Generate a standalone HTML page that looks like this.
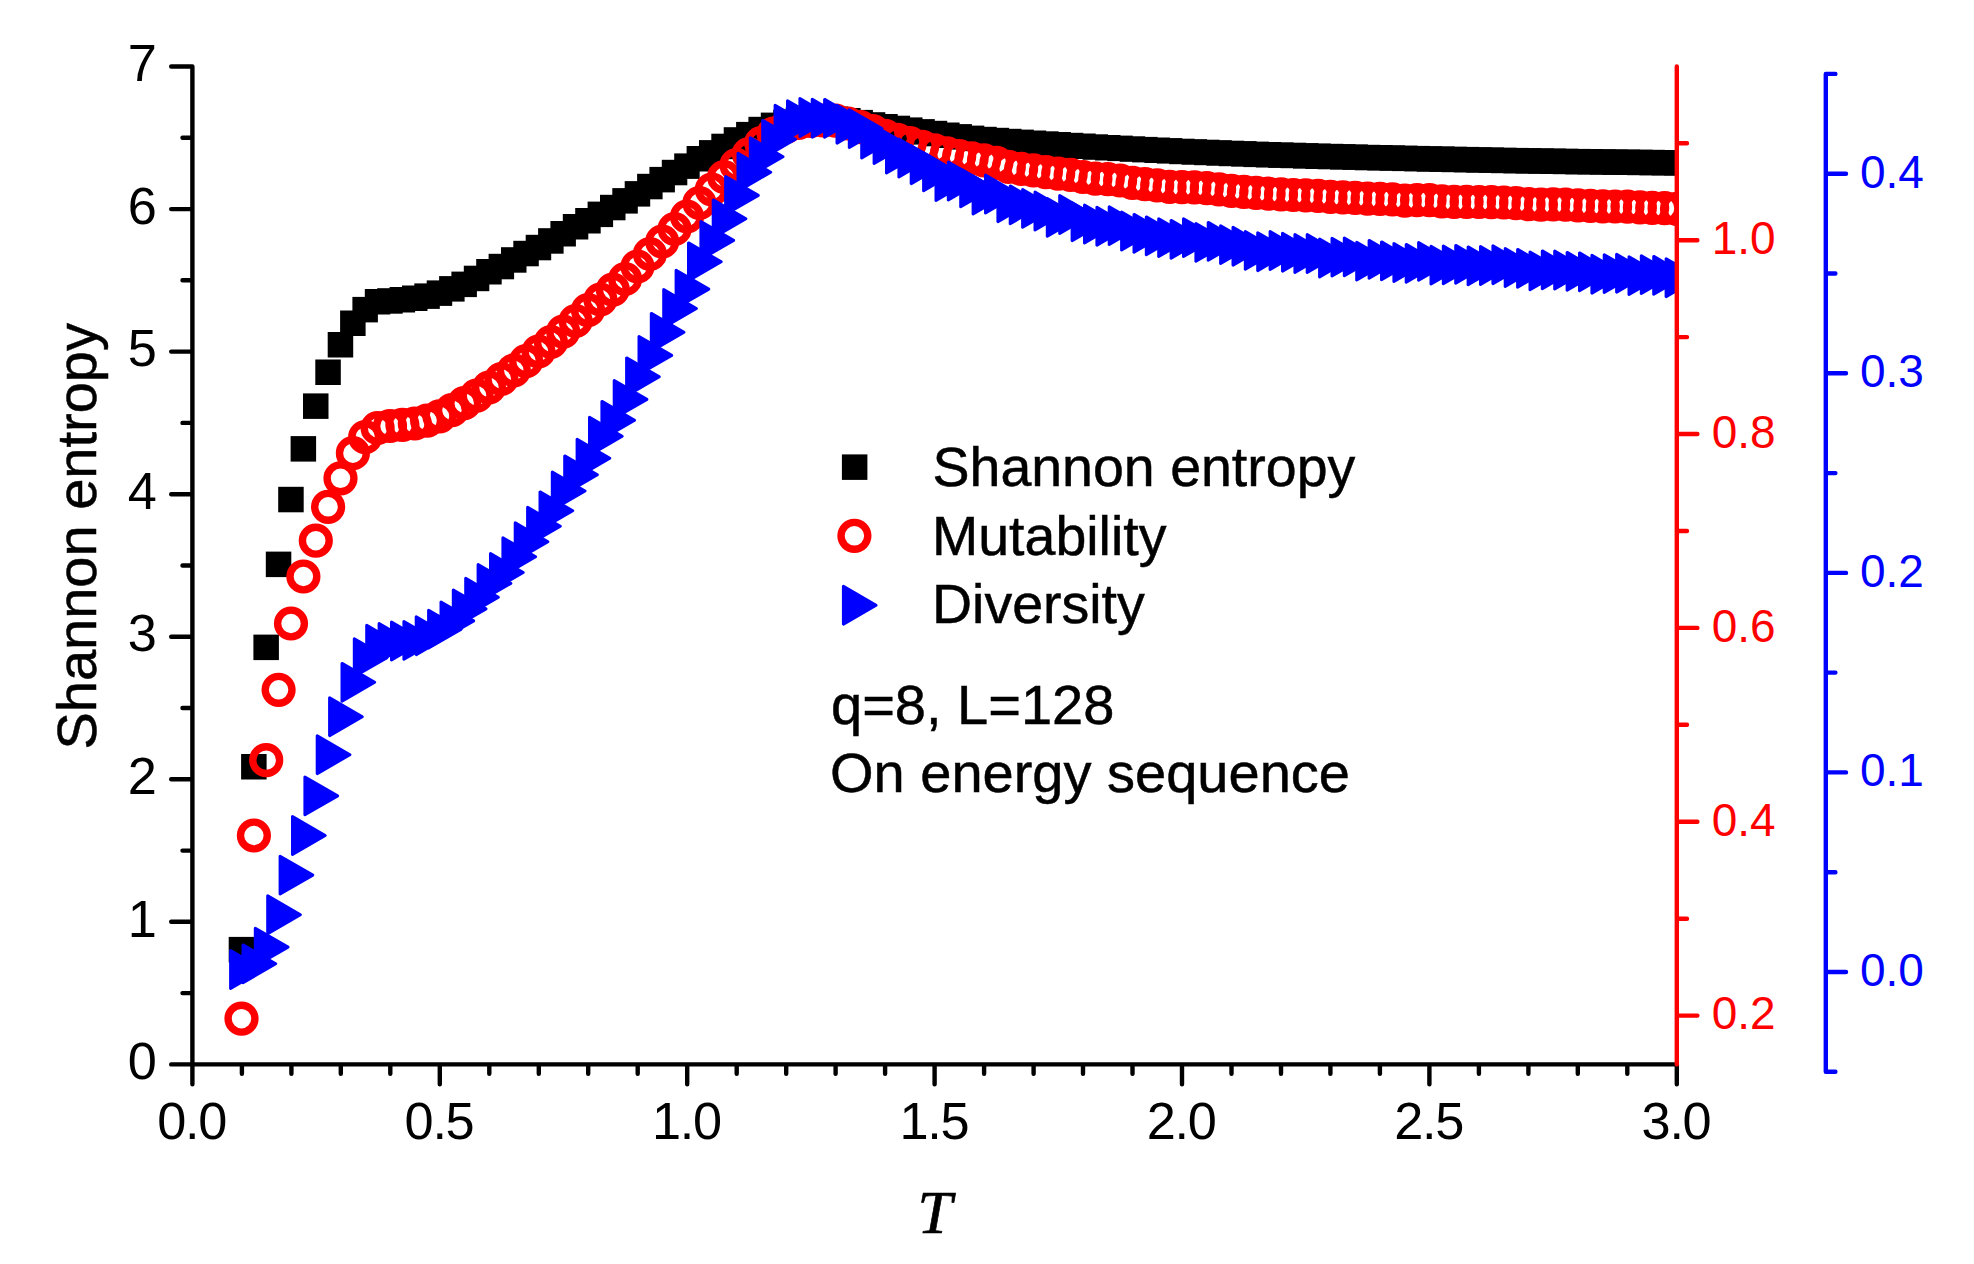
<!DOCTYPE html>
<html lang="en"><head><meta charset="utf-8"><title>Shannon entropy, Mutability, Diversity</title>
<style>html,body{margin:0;padding:0;background:#fff}body{width:1974px;height:1264px;overflow:hidden}svg{display:block}text{font-family:"Liberation Sans",Arial,sans-serif;stroke-width:0}.tl,.tg{stroke:#000;stroke-width:.5px}.k{fill:#000}.r{fill:#f00}.b{fill:#00f}.tk{font-size:52.3px;letter-spacing:-1.3px}.ts{font-size:46px}.tl{font-size:56px}.tg{font-size:55.5px}</style></head><body>
<svg width="1974" height="1264" viewBox="0 0 1974 1264">
<rect width="1974" height="1264" fill="#fff"/>
<defs><clipPath id="cp"><rect x="192.4" y="0" width="1484.4" height="1264"/></clipPath>
<rect id="sq" x="-12.8" y="-12.8" width="25.5" height="25.5" fill="#000"/>
<circle id="ci" r="13.4" fill="none" stroke="#f00" stroke-width="7.4"/>
<path id="tr" d="M-10.9 -18.9L21.8 0L-10.9 18.9Z" fill="#00f" stroke="#00f" stroke-width="3" stroke-linejoin="round"/>
</defs>
<g clip-path="url(#cp)">
<g><use href="#sq" x="241.5" y="949.7"/><use href="#sq" x="253.9" y="766.8"/><use href="#sq" x="266.2" y="647.4"/><use href="#sq" x="278.6" y="564.4"/><use href="#sq" x="291" y="499.6"/><use href="#sq" x="303.4" y="448.9"/><use href="#sq" x="315.8" y="406.2"/><use href="#sq" x="328.1" y="372.3"/><use href="#sq" x="340.5" y="344.8"/><use href="#sq" x="352.9" y="323.3"/><use href="#sq" x="365.2" y="309.7"/><use href="#sq" x="377.6" y="301.8"/><use href="#sq" x="390" y="301"/><use href="#sq" x="402.4" y="299.8"/><use href="#sq" x="414.8" y="298.3"/><use href="#sq" x="427.1" y="296.2"/><use href="#sq" x="439.5" y="293.2"/><use href="#sq" x="451.9" y="288.9"/><use href="#sq" x="464.2" y="284.4"/><use href="#sq" x="476.6" y="278.5"/><use href="#sq" x="489" y="271.8"/><use href="#sq" x="501.4" y="266.6"/><use href="#sq" x="513.8" y="260"/><use href="#sq" x="526.1" y="253.6"/><use href="#sq" x="538.5" y="247.6"/><use href="#sq" x="550.9" y="241"/><use href="#sq" x="563.2" y="233.8"/><use href="#sq" x="575.6" y="226.8"/><use href="#sq" x="588" y="220.8"/><use href="#sq" x="600.4" y="214.4"/><use href="#sq" x="612.8" y="207.6"/><use href="#sq" x="625.1" y="200.9"/><use href="#sq" x="637.5" y="193.9"/><use href="#sq" x="649.9" y="186.6"/><use href="#sq" x="662.2" y="179.7"/><use href="#sq" x="674.6" y="172.6"/><use href="#sq" x="687" y="166.2"/><use href="#sq" x="699.4" y="158.8"/><use href="#sq" x="711.8" y="152.9"/><use href="#sq" x="724.1" y="146.5"/><use href="#sq" x="736.5" y="140"/><use href="#sq" x="748.9" y="134.7"/><use href="#sq" x="761.2" y="129.6"/><use href="#sq" x="773.6" y="125.4"/><use href="#sq" x="786" y="122.5"/><use href="#sq" x="798.4" y="120.5"/><use href="#sq" x="810.8" y="119.3"/><use href="#sq" x="823.1" y="118.8"/><use href="#sq" x="835.5" y="119.3"/><use href="#sq" x="847.9" y="120.8"/><use href="#sq" x="860.2" y="122.7"/><use href="#sq" x="872.6" y="125"/><use href="#sq" x="885" y="126.8"/><use href="#sq" x="897.4" y="128.5"/><use href="#sq" x="909.8" y="130.2"/><use href="#sq" x="922.1" y="131.9"/><use href="#sq" x="934.5" y="133.6"/><use href="#sq" x="946.9" y="135.3"/><use href="#sq" x="959.2" y="136.9"/><use href="#sq" x="971.6" y="138.4"/><use href="#sq" x="984" y="139.6"/><use href="#sq" x="996.4" y="140.6"/><use href="#sq" x="1008.8" y="141.6"/><use href="#sq" x="1021.1" y="142.4"/><use href="#sq" x="1033.5" y="143.3"/><use href="#sq" x="1045.9" y="144.1"/><use href="#sq" x="1058.2" y="144.8"/><use href="#sq" x="1070.6" y="145.6"/><use href="#sq" x="1083" y="146.3"/><use href="#sq" x="1095.4" y="147.1"/><use href="#sq" x="1107.8" y="147.8"/><use href="#sq" x="1120.1" y="148.4"/><use href="#sq" x="1132.5" y="149.1"/><use href="#sq" x="1144.9" y="149.7"/><use href="#sq" x="1157.2" y="150.3"/><use href="#sq" x="1169.6" y="150.9"/><use href="#sq" x="1182" y="151.5"/><use href="#sq" x="1194.4" y="152"/><use href="#sq" x="1206.8" y="152.5"/><use href="#sq" x="1219.1" y="153"/><use href="#sq" x="1231.5" y="153.5"/><use href="#sq" x="1243.9" y="153.9"/><use href="#sq" x="1256.2" y="154.4"/><use href="#sq" x="1268.6" y="154.8"/><use href="#sq" x="1281" y="155.2"/><use href="#sq" x="1293.4" y="155.5"/><use href="#sq" x="1305.8" y="155.9"/><use href="#sq" x="1318.1" y="156.3"/><use href="#sq" x="1330.5" y="156.6"/><use href="#sq" x="1342.9" y="156.9"/><use href="#sq" x="1355.2" y="157.2"/><use href="#sq" x="1367.6" y="157.6"/><use href="#sq" x="1380" y="157.8"/><use href="#sq" x="1392.4" y="158.1"/><use href="#sq" x="1404.8" y="158.4"/><use href="#sq" x="1417.1" y="158.7"/><use href="#sq" x="1429.5" y="159"/><use href="#sq" x="1441.9" y="159.2"/><use href="#sq" x="1454.2" y="159.5"/><use href="#sq" x="1466.6" y="159.7"/><use href="#sq" x="1479" y="160"/><use href="#sq" x="1491.4" y="160.2"/><use href="#sq" x="1503.8" y="160.5"/><use href="#sq" x="1516.1" y="160.7"/><use href="#sq" x="1528.5" y="160.9"/><use href="#sq" x="1540.9" y="161.1"/><use href="#sq" x="1553.2" y="161.3"/><use href="#sq" x="1565.6" y="161.5"/><use href="#sq" x="1578" y="161.7"/><use href="#sq" x="1590.4" y="161.8"/><use href="#sq" x="1602.8" y="162"/><use href="#sq" x="1615.1" y="162.2"/><use href="#sq" x="1627.5" y="162.3"/><use href="#sq" x="1639.9" y="162.5"/><use href="#sq" x="1652.2" y="162.6"/><use href="#sq" x="1664.6" y="162.8"/><use href="#sq" x="1677" y="162.9"/></g>
<g><use href="#ci" x="241.5" y="1018.7"/><use href="#ci" x="253.9" y="835.5"/><use href="#ci" x="266.2" y="760.1"/><use href="#ci" x="278.6" y="689.8"/><use href="#ci" x="291" y="623.5"/><use href="#ci" x="303.4" y="576.5"/><use href="#ci" x="315.8" y="540.7"/><use href="#ci" x="328.1" y="506.8"/><use href="#ci" x="340.5" y="478.3"/><use href="#ci" x="352.9" y="453.2"/><use href="#ci" x="365.2" y="437.2"/><use href="#ci" x="377.6" y="428"/><use href="#ci" x="390" y="426"/><use href="#ci" x="402.4" y="424.8"/><use href="#ci" x="414.8" y="423.5"/><use href="#ci" x="427.1" y="420.6"/><use href="#ci" x="439.5" y="416.3"/><use href="#ci" x="451.9" y="410.2"/><use href="#ci" x="464.2" y="403.2"/><use href="#ci" x="476.6" y="395.7"/><use href="#ci" x="489" y="387.5"/><use href="#ci" x="501.4" y="379"/><use href="#ci" x="513.8" y="370.4"/><use href="#ci" x="526.1" y="361.2"/><use href="#ci" x="538.5" y="351.5"/><use href="#ci" x="550.9" y="342"/><use href="#ci" x="563.2" y="331.6"/><use href="#ci" x="575.6" y="321"/><use href="#ci" x="588" y="310.2"/><use href="#ci" x="600.4" y="299.5"/><use href="#ci" x="612.8" y="289.6"/><use href="#ci" x="625.1" y="279"/><use href="#ci" x="637.5" y="266.5"/><use href="#ci" x="649.9" y="254"/><use href="#ci" x="662.2" y="241.5"/><use href="#ci" x="674.6" y="229"/><use href="#ci" x="687" y="216.5"/><use href="#ci" x="699.4" y="203"/><use href="#ci" x="711.8" y="189.5"/><use href="#ci" x="724.1" y="177"/><use href="#ci" x="736.5" y="165"/><use href="#ci" x="748.9" y="154"/><use href="#ci" x="761.2" y="143"/><use href="#ci" x="773.6" y="133.5"/><use href="#ci" x="786" y="127"/><use href="#ci" x="798.4" y="123"/><use href="#ci" x="810.8" y="121"/><use href="#ci" x="823.1" y="120.5"/><use href="#ci" x="835.5" y="120.7"/><use href="#ci" x="847.9" y="123.5"/><use href="#ci" x="860.2" y="127.2"/><use href="#ci" x="872.6" y="131.2"/><use href="#ci" x="885" y="135.8"/><use href="#ci" x="897.4" y="139.8"/><use href="#ci" x="909.8" y="143"/><use href="#ci" x="922.1" y="146.8"/><use href="#ci" x="934.5" y="150.3"/><use href="#ci" x="946.9" y="153.4"/><use href="#ci" x="959.2" y="156.2"/><use href="#ci" x="971.6" y="158.4"/><use href="#ci" x="984" y="160.4"/><use href="#ci" x="996.4" y="162.8"/><use href="#ci" x="1008.8" y="166.9"/><use href="#ci" x="1021.1" y="168.8"/><use href="#ci" x="1033.5" y="170.4"/><use href="#ci" x="1045.9" y="172.1"/><use href="#ci" x="1058.2" y="173.6"/><use href="#ci" x="1070.6" y="174.8"/><use href="#ci" x="1083" y="177"/><use href="#ci" x="1095.4" y="178.7"/><use href="#ci" x="1107.8" y="179.1"/><use href="#ci" x="1120.1" y="180.5"/><use href="#ci" x="1132.5" y="182.8"/><use href="#ci" x="1144.9" y="184.1"/><use href="#ci" x="1157.2" y="185.4"/><use href="#ci" x="1169.6" y="186.8"/><use href="#ci" x="1182" y="187.2"/><use href="#ci" x="1194.4" y="187.4"/><use href="#ci" x="1206.8" y="188.2"/><use href="#ci" x="1219.1" y="189.4"/><use href="#ci" x="1231.5" y="190.8"/><use href="#ci" x="1243.9" y="191.9"/><use href="#ci" x="1256.2" y="192.9"/><use href="#ci" x="1268.6" y="193.7"/><use href="#ci" x="1281" y="194.3"/><use href="#ci" x="1293.4" y="195"/><use href="#ci" x="1305.8" y="195.4"/><use href="#ci" x="1318.1" y="195.8"/><use href="#ci" x="1330.5" y="196.8"/><use href="#ci" x="1342.9" y="197.3"/><use href="#ci" x="1355.2" y="197.8"/><use href="#ci" x="1367.6" y="198.6"/><use href="#ci" x="1380" y="198.8"/><use href="#ci" x="1392.4" y="199.4"/><use href="#ci" x="1404.8" y="200.6"/><use href="#ci" x="1417.1" y="200.2"/><use href="#ci" x="1429.5" y="200.2"/><use href="#ci" x="1441.9" y="201.4"/><use href="#ci" x="1454.2" y="201.9"/><use href="#ci" x="1466.6" y="201.8"/><use href="#ci" x="1479" y="202"/><use href="#ci" x="1491.4" y="202.2"/><use href="#ci" x="1503.8" y="202.5"/><use href="#ci" x="1516.1" y="203.1"/><use href="#ci" x="1528.5" y="204.1"/><use href="#ci" x="1540.9" y="204.6"/><use href="#ci" x="1553.2" y="204.3"/><use href="#ci" x="1565.6" y="204.7"/><use href="#ci" x="1578" y="205.4"/><use href="#ci" x="1590.4" y="205.8"/><use href="#ci" x="1602.8" y="206.4"/><use href="#ci" x="1615.1" y="206.5"/><use href="#ci" x="1627.5" y="206.6"/><use href="#ci" x="1639.9" y="207.4"/><use href="#ci" x="1652.2" y="207.8"/><use href="#ci" x="1664.6" y="208.2"/><use href="#ci" x="1677" y="208.8"/></g>
<g><use href="#tr" x="241.5" y="969.5"/><use href="#tr" x="253.9" y="963.8"/><use href="#tr" x="266.2" y="947.1"/><use href="#tr" x="278.6" y="914.7"/><use href="#tr" x="291" y="875.1"/><use href="#tr" x="303.4" y="835.5"/><use href="#tr" x="315.8" y="795.9"/><use href="#tr" x="328.1" y="754.7"/><use href="#tr" x="340.5" y="716.7"/><use href="#tr" x="352.9" y="682.3"/><use href="#tr" x="365.2" y="657.6"/><use href="#tr" x="377.6" y="644.2"/><use href="#tr" x="390" y="642.5"/><use href="#tr" x="402.4" y="641"/><use href="#tr" x="414.8" y="640.4"/><use href="#tr" x="427.1" y="635.7"/><use href="#tr" x="439.5" y="629.1"/><use href="#tr" x="451.9" y="620.9"/><use href="#tr" x="464.2" y="608.9"/><use href="#tr" x="476.6" y="597.2"/><use href="#tr" x="489" y="583.4"/><use href="#tr" x="501.4" y="572.5"/><use href="#tr" x="513.8" y="556.7"/><use href="#tr" x="526.1" y="541.7"/><use href="#tr" x="538.5" y="526.2"/><use href="#tr" x="550.9" y="510.8"/><use href="#tr" x="563.2" y="491"/><use href="#tr" x="575.6" y="474.8"/><use href="#tr" x="588" y="458.2"/><use href="#tr" x="600.4" y="436.2"/><use href="#tr" x="612.8" y="420.3"/><use href="#tr" x="625.1" y="399.4"/><use href="#tr" x="637.5" y="376.8"/><use href="#tr" x="649.9" y="355.4"/><use href="#tr" x="662.2" y="332.3"/><use href="#tr" x="674.6" y="308.5"/><use href="#tr" x="687" y="289.1"/><use href="#tr" x="699.4" y="261.8"/><use href="#tr" x="711.8" y="240.4"/><use href="#tr" x="724.1" y="218.8"/><use href="#tr" x="736.5" y="195.4"/><use href="#tr" x="748.9" y="172.2"/><use href="#tr" x="761.2" y="156.7"/><use href="#tr" x="773.6" y="139.3"/><use href="#tr" x="786" y="124.2"/><use href="#tr" x="798.4" y="119.6"/><use href="#tr" x="810.8" y="117.5"/><use href="#tr" x="823.1" y="118.2"/><use href="#tr" x="835.5" y="118.3"/><use href="#tr" x="847.9" y="124.2"/><use href="#tr" x="860.2" y="128.6"/><use href="#tr" x="872.6" y="139"/><use href="#tr" x="885" y="144.6"/><use href="#tr" x="897.4" y="154.1"/><use href="#tr" x="909.8" y="158"/><use href="#tr" x="922.1" y="164.7"/><use href="#tr" x="934.5" y="171.8"/><use href="#tr" x="946.9" y="181.5"/><use href="#tr" x="959.2" y="181"/><use href="#tr" x="971.6" y="187.9"/><use href="#tr" x="984" y="195"/><use href="#tr" x="996.4" y="194"/><use href="#tr" x="1008.8" y="202.7"/><use href="#tr" x="1021.1" y="204.8"/><use href="#tr" x="1033.5" y="208.4"/><use href="#tr" x="1045.9" y="211"/><use href="#tr" x="1058.2" y="217.4"/><use href="#tr" x="1070.6" y="214.5"/><use href="#tr" x="1083" y="221.7"/><use href="#tr" x="1095.4" y="224"/><use href="#tr" x="1107.8" y="226.2"/><use href="#tr" x="1120.1" y="225.6"/><use href="#tr" x="1132.5" y="231"/><use href="#tr" x="1144.9" y="233.3"/><use href="#tr" x="1157.2" y="235.8"/><use href="#tr" x="1169.6" y="237.6"/><use href="#tr" x="1182" y="239.3"/><use href="#tr" x="1194.4" y="237.6"/><use href="#tr" x="1206.8" y="242.4"/><use href="#tr" x="1219.1" y="241.3"/><use href="#tr" x="1231.5" y="244.6"/><use href="#tr" x="1243.9" y="246.2"/><use href="#tr" x="1256.2" y="250.4"/><use href="#tr" x="1268.6" y="251.7"/><use href="#tr" x="1281" y="250.5"/><use href="#tr" x="1293.4" y="252.2"/><use href="#tr" x="1305.8" y="253.5"/><use href="#tr" x="1318.1" y="253.5"/><use href="#tr" x="1330.5" y="258"/><use href="#tr" x="1342.9" y="257.1"/><use href="#tr" x="1355.2" y="256.9"/><use href="#tr" x="1367.6" y="261.1"/><use href="#tr" x="1380" y="259.3"/><use href="#tr" x="1392.4" y="260.8"/><use href="#tr" x="1404.8" y="262.5"/><use href="#tr" x="1417.1" y="263.3"/><use href="#tr" x="1429.5" y="261.4"/><use href="#tr" x="1441.9" y="265.1"/><use href="#tr" x="1454.2" y="264.9"/><use href="#tr" x="1466.6" y="264.3"/><use href="#tr" x="1479" y="265.8"/><use href="#tr" x="1491.4" y="265.5"/><use href="#tr" x="1503.8" y="264.7"/><use href="#tr" x="1516.1" y="267.5"/><use href="#tr" x="1528.5" y="268.3"/><use href="#tr" x="1540.9" y="270.9"/><use href="#tr" x="1553.2" y="269.8"/><use href="#tr" x="1565.6" y="270"/><use href="#tr" x="1578" y="271.3"/><use href="#tr" x="1590.4" y="271.8"/><use href="#tr" x="1602.8" y="274.2"/><use href="#tr" x="1615.1" y="273.6"/><use href="#tr" x="1627.5" y="273.2"/><use href="#tr" x="1639.9" y="275.6"/><use href="#tr" x="1652.2" y="274.6"/><use href="#tr" x="1664.6" y="275.3"/><use href="#tr" x="1677" y="277.7"/></g>
</g>
<path d="M192.4 66.5V1064.4H1676.8M192.4 1064.4H171.2M192.4 993.1H182.5M192.4 921.8H171.2M192.4 850.6H182.5M192.4 779.3H171.2M192.4 708H182.5M192.4 636.7H171.2M192.4 565.5H182.5M192.4 494.2H171.2M192.4 422.9H182.5M192.4 351.6H171.2M192.4 280.3H182.5M192.4 209.1H171.2M192.4 137.8H182.5M192.4 66.5H171.2M192.4 1064.4V1084.3M241.9 1064.4V1073.8M291.4 1064.4V1073.8M340.8 1064.4V1073.8M390.3 1064.4V1073.8M439.8 1064.4V1084.3M489.3 1064.4V1073.8M538.8 1064.4V1073.8M588.2 1064.4V1073.8M637.7 1064.4V1073.8M687.2 1064.4V1084.3M736.7 1064.4V1073.8M786.2 1064.4V1073.8M835.6 1064.4V1073.8M885.1 1064.4V1073.8M934.6 1064.4V1084.3M984.1 1064.4V1073.8M1033.6 1064.4V1073.8M1083 1064.4V1073.8M1132.5 1064.4V1073.8M1182 1064.4V1084.3M1231.5 1064.4V1073.8M1281 1064.4V1073.8M1330.4 1064.4V1073.8M1379.9 1064.4V1073.8M1429.4 1064.4V1084.3M1478.9 1064.4V1073.8M1528.4 1064.4V1073.8M1577.8 1064.4V1073.8M1627.3 1064.4V1073.8M1676.8 1064.4V1084.3" fill="none" stroke="#000" stroke-width="4.4" stroke-linecap="round" stroke-linejoin="round"/>
<path d="M1676.8 66.5V1064.4M1676.8 1015.6H1697.4M1676.8 918.7H1687M1676.8 821.8H1697.4M1676.8 724.8H1687M1676.8 627.9H1697.4M1676.8 531H1687M1676.8 434H1697.4M1676.8 337.1H1687M1676.8 240.2H1697.4M1676.8 143.3H1687" fill="none" stroke="#f00" stroke-width="4.4" stroke-linecap="round"/>
<path d="M1825.8 73.9V1071.8M1825.8 1071.8H1835.4M1825.8 972H1846M1825.8 872.2H1835.4M1825.8 772.4H1846M1825.8 672.6H1835.4M1825.8 572.9H1846M1825.8 473.1H1835.4M1825.8 373.3H1846M1825.8 273.5H1835.4M1825.8 173.7H1846M1825.8 73.9H1835.4" fill="none" stroke="#00f" stroke-width="4.4" stroke-linecap="round"/>
<text class="k tk" x="155.6" y="1079.1" text-anchor="end">0</text>
<text class="k tk" x="155.6" y="936.5" text-anchor="end">1</text>
<text class="k tk" x="155.6" y="793.9" text-anchor="end">2</text>
<text class="k tk" x="155.6" y="651.4" text-anchor="end">3</text>
<text class="k tk" x="155.6" y="508.8" text-anchor="end">4</text>
<text class="k tk" x="155.6" y="366.3" text-anchor="end">5</text>
<text class="k tk" x="155.6" y="223.7" text-anchor="end">6</text>
<text class="k tk" x="155.6" y="81.1" text-anchor="end">7</text>
<text class="k tk" x="191.6" y="1138.6" text-anchor="middle">0.0</text>
<text class="k tk" x="439" y="1138.6" text-anchor="middle">0.5</text>
<text class="k tk" x="686.4" y="1138.6" text-anchor="middle">1.0</text>
<text class="k tk" x="933.8" y="1138.6" text-anchor="middle">1.5</text>
<text class="k tk" x="1181.2" y="1138.6" text-anchor="middle">2.0</text>
<text class="k tk" x="1428.6" y="1138.6" text-anchor="middle">2.5</text>
<text class="k tk" x="1676" y="1138.6" text-anchor="middle">3.0</text>
<text class="r ts" x="1711.7" y="1029.4">0.2</text>
<text class="r ts" x="1711.7" y="835.5">0.4</text>
<text class="r ts" x="1711.7" y="641.7">0.6</text>
<text class="r ts" x="1711.7" y="447.8">0.8</text>
<text class="r ts" x="1711.7" y="254">1.0</text>
<text class="b ts" x="1860" y="985.8">0.0</text>
<text class="b ts" x="1860" y="786.2">0.1</text>
<text class="b ts" x="1860" y="586.6">0.2</text>
<text class="b ts" x="1860" y="387.1">0.3</text>
<text class="b ts" x="1860" y="187.5">0.4</text>
<text x="934.8" y="1233" text-anchor="middle" style="font-family:'Liberation Serif','Times New Roman',serif;font-style:italic;font-size:62px;stroke:#000;stroke-width:.7px" class="k">T</text>
<text class="k tl" transform="translate(96.4 536.3) rotate(-90)" text-anchor="middle">Shannon entropy</text>
<use href="#sq" x="854.7" y="467.2"/><use href="#ci" x="854.4" y="535.8"/><use href="#tr" x="854.3" y="605.2"/>
<text class="k tg" x="932.5" y="485.8">Shannon entropy</text>
<text class="k tg" x="932" y="554.5">Mutability</text>
<text class="k tg" x="932" y="622.5">Diversity</text>
<text class="k tl" x="831" y="723.8">q=8, L=128</text>
<text class="k tl" x="830" y="791.8">On energy sequence</text>
</svg></body></html>
